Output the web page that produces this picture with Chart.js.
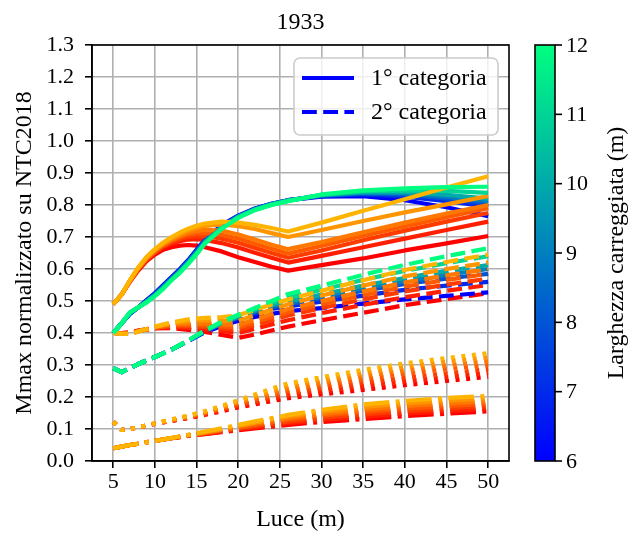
<!DOCTYPE html>
<html>
<head>
<meta charset="utf-8">
<script src="https://cdn.jsdelivr.net/npm/chart.js@4.4.1/dist/chart.umd.min.js"></script>
<style>
  html, body { margin: 0; padding: 0; background: #fff; }
  canvas { display: block; }
</style>
</head>
<body>
<canvas id="chart" width="630" height="535"></canvas>
<script>
// ---- text ----
const TITLE = '1933';
const X_LABEL = 'Luce (m)';
const Y_LABEL = 'Mmax normalizzato su NTC2018';
const CB_LABEL = 'Larghezza carreggiata (m)';
const LEGEND_LABELS = ['1° categoria', '2° categoria'];

// ---- ticks ----
const X_TICKS = [5, 10, 15, 20, 25, 30, 35, 40, 45, 50];
const Y_TICKS = [0.0, 0.1, 0.2, 0.3, 0.4, 0.5, 0.6, 0.7, 0.8, 0.9, 1.0, 1.1, 1.2, 1.3];
const CB_TICKS = [6, 7, 8, 9, 10, 11, 12];

// ---- carriageway widths (m), one curve per width in every family ----
const WIDTHS = [6, 7, 8, 9, 10, 11, 12];

// spans (m)
const LUCE_FINE = [5, 6, 7, 8, 9, 10, 11, 12, 13, 14, 15, 16, 18, 20, 22, 24, 26, 30, 35, 40, 45, 50];
const LUCE = [5, 6, 7, 8, 10, 12, 14, 16, 18, 20, 22, 24, 26, 30, 35, 40, 45, 50];

// 1st category, solid (on LUCE_FINE)
const cat1 = [
  [.40, .43, .46, .48, .503, .525, .55, .575, .60, .628, .66, .692, .737, .767, .789, .804, .815, .826, .828, .815, .793, .765],
  [.40, .43, .46, .48, .501, .523, .548, .573, .598, .626, .658, .69, .735, .766, .788, .804, .815, .828, .833, .826, .812, .795],
  [.40, .43, .461, .48, .50, .521, .546, .571, .596, .624, .655, .688, .733, .765, .787, .803, .815, .829, .836, .832, .82, .805],
  [.40, .43, .462, .48, .499, .519, .544, .569, .594, .622, .652, .685, .731, .764, .787, .803, .814, .83, .838, .836, .826, .812],
  [.40, .43, .463, .48, .498, .518, .542, .567, .592, .62, .65, .683, .729, .763, .786, .802, .814, .831, .84, .84, .832, .82],
  [.40, .43, .464, .48, .497, .517, .54, .566, .59, .618, .648, .681, .727, .762, .785, .801, .813, .832, .843, .846, .844, .838],
  [.40, .43, .465, .48, .495, .515, .538, .565, .588, .616, .646, .679, .725, .76, .784, .80, .812, .833, .846, .852, .856, .857]
];

// 2nd category, dashed (on LUCE)
const cat2 = [
  [.29, .278, .29, .303, .325, .348, .375, .402, .422, .438, .45, .46, .468, .478, .492, .505, .516, .527],
  [.29, .278, .29, .303, .325, .348, .376, .404, .427, .445, .461, .475, .483, .498, .517, .535, .548, .56],
  [.29, .278, .29, .303, .325, .348, .376, .405, .429, .448, .465, .48, .489, .508, .532, .553, .57, .585],
  [.29, .278, .29, .303, .325, .348, .376, .406, .43, .45, .468, .484, .494, .514, .54, .562, .582, .60],
  [.29, .278, .29, .303, .325, .348, .377, .406, .432, .452, .471, .488, .50, .52, .548, .572, .594, .612],
  [.29, .278, .29, .303, .325, .348, .377, .407, .433, .455, .475, .494, .51, .535, .566, .594, .618, .64],
  [.29, .278, .29, .303, .325, .348, .377, .408, .435, .457, .478, .50, .522, .548, .582, .613, .64, .665]
];

// warm families: solid (on LUCE_FINE), dashed / dotted / dash-dot (on LUCE)
const warmSolid = [
  [.49, .52, .56, .595, .625, .645, .66, .668, .673, .675, .673, .668, .655, .637, .622, .607, .595, .612, .633, .658, .68, .703],
  [.49, .52, .561, .598, .628, .649, .667, .679, .687, .692, .693, .691, .681, .667, .651, .635, .62, .641, .668, .695, .722, .748],
  [.49, .52, .562, .60, .63, .652, .671, .684, .694, .70, .703, .703, .695, .682, .666, .65, .635, .658, .69, .72, .748, .775],
  [.49, .52, .563, .601, .632, .655, .674, .688, .699, .707, .711, .712, .707, .695, .679, .663, .648, .672, .703, .733, .762, .79],
  [.49, .52, .563, .602, .634, .657, .677, .692, .704, .713, .719, .722, .72, .708, .692, .676, .662, .684, .715, .745, .773, .80],
  [.49, .52, .564, .604, .636, .66, .68, .696, .709, .72, .729, .735, .739, .734, .725, .712, .70, .722, .75, .777, .802, .828],
  [.49, .52, .565, .605, .638, .662, .683, .70, .714, .726, .735, .742, .748, .745, .738, .728, .717, .745, .782, .818, .855, .89]
];
const warmDashed = [
  [.40, .40, .403, .408, .414, .415, .41, .403, .394, .385, .395, .408, .42, .44, .463, .487, .506, .524],
  [.40, .399, .401, .407, .415, .418, .416, .412, .406, .40, .413, .427, .44, .462, .488, .512, .532, .55],
  [.40, .398, .40, .406, .416, .421, .421, .418, .414, .41, .424, .44, .455, .478, .505, .53, .551, .57],
  [.40, .398, .399, .406, .417, .424, .425, .424, .421, .418, .433, .45, .465, .49, .518, .545, .566, .585],
  [.40, .397, .398, .405, .418, .428, .429, .43, .428, .425, .442, .459, .475, .50, .53, .558, .58, .60],
  [.40, .397, .397, .405, .419, .431, .436, .44, .439, .438, .456, .473, .49, .517, .548, .577, .60, .62],
  [.40, .397, .397, .405, .42, .433, .443, .447, .45, .455, .472, .489, .505, .532, .565, .597, .622, .645]
];
const warmDotted = [
  [.123, .097, .10, .105, .116, .125, .134, .144, .155, .167, .177, .187, .196, .208, .222, .237, .25, .263],
  [.123, .097, .10, .105, .116, .126, .135, .146, .158, .171, .181, .193, .204, .217, .233, .249, .262, .275],
  [.123, .097, .10, .105, .117, .127, .137, .148, .161, .175, .186, .199, .212, .226, .243, .26, .274, .287],
  [.123, .097, .10, .105, .117, .128, .138, .15, .164, .179, .192, .206, .22, .236, .254, .272, .287, .30],
  [.123, .097, .10, .105, .117, .128, .139, .152, .167, .183, .197, .212, .228, .245, .265, .283, .299, .312],
  [.123, .097, .10, .105, .118, .129, .141, .154, .17, .187, .202, .218, .236, .254, .275, .294, .311, .324],
  [.123, .097, .10, .105, .118, .13, .142, .156, .172, .19, .208, .226, .243, .262, .285, .305, .322, .337]
];
const warmDashDot = [
  [.04, .045, .05, .054, .063, .071, .078, .084, .09, .096, .102, .107, .113, .122, .131, .14, .148, .155],
  [.04, .045, .05, .054, .063, .071, .079, .085, .092, .099, .105, .111, .118, .128, .138, .148, .156, .163],
  [.04, .045, .05, .054, .063, .071, .079, .086, .094, .102, .109, .116, .123, .134, .146, .156, .164, .171],
  [.04, .045, .05, .054, .063, .072, .08, .088, .096, .104, .113, .121, .129, .141, .154, .164, .172, .179],
  [.04, .045, .05, .054, .063, .072, .081, .089, .098, .107, .117, .126, .134, .147, .161, .172, .18, .187],
  [.04, .045, .05, .054, .063, .072, .081, .09, .10, .11, .12, .13, .139, .154, .169, .18, .189, .195],
  [.04, .045, .05, .054, .063, .072, .082, .092, .102, .113, .124, .134, .144, .16, .177, .188, .197, .203]
];

// ---- styling ----
const FONT = '"Liberation Serif", "Times New Roman", serif';
const LW = 4.2;
const DASHED = [14.8, 6.4];
const DOTTED = [4, 6.6];
const DASHDOT = [25.6, 6.4, 4, 6.4];
const GRID = '#b0b0b0';
const TICK_SIZE = 22;
const LABEL_SIZE = 24;

const wMin = WIDTHS[0], wMax = WIDTHS[WIDTHS.length - 1];
// "winter" style ramp: blue -> spring green
const coolColor = t => `rgb(0,${Math.round(255 * t)},${Math.round(255 * (1 - 0.5 * t))})`;
// "autumn" style ramp: red -> orange
const warmColor = t => `rgb(255,${Math.round(180 * t)},0)`;

const datasets = [];
function addLine(xs, ys, color, dash) {
  datasets.push({
    data: xs.map((x, j) => ({ x: x, y: ys[j] })),
    borderColor: color,
    borderWidth: LW,
    borderDash: dash,
    borderCapStyle: 'butt',
    borderJoinStyle: 'round',
    pointRadius: 0,
    pointHoverRadius: 0,
    fill: false,
    tension: 0
  });
}
WIDTHS.forEach((w, i) => {
  const t = (w - wMin) / (wMax - wMin);
  addLine(LUCE, warmDashDot[i], warmColor(t), DASHDOT);
  addLine(LUCE, warmDotted[i], warmColor(t), DOTTED);
  addLine(LUCE, warmDashed[i], warmColor(t), DASHED);
  addLine(LUCE_FINE, warmSolid[i], warmColor(t), []);
  addLine(LUCE, cat2[i], coolColor(t), DASHED);
  addLine(LUCE_FINE, cat1[i], coolColor(t), []);
});
// later entries are painted on top
datasets.forEach((d, k) => { d.order = -k; });

// frame, title, legend and colour bar
const decorations = {
  id: 'decorations',
  afterDraw(chart) {
    const { ctx, chartArea: a } = chart;
    ctx.save();
    // frame
    ctx.strokeStyle = '#000';
    ctx.lineWidth = 1.6;
    ctx.strokeRect(a.left, a.top, a.right - a.left, a.bottom - a.top);

    // title
    ctx.fillStyle = '#000';
    ctx.font = `${LABEL_SIZE}px ${FONT}`;
    ctx.textAlign = 'center';
    ctx.textBaseline = 'middle';
    ctx.fillText(TITLE, (a.left + a.right) / 2, 23);

    // legend
    const lx = 294, ly = 58, lw = 204, lh = 77;
    ctx.beginPath();
    ctx.roundRect(lx, ly, lw, lh, 6);
    ctx.fillStyle = 'rgba(255,255,255,0.8)';
    ctx.fill();
    ctx.strokeStyle = '#cccccc';
    ctx.lineWidth = 1.6;
    ctx.stroke();
    const rows = [{ y: 78, dash: [] }, { y: 112, dash: DASHED }];
    rows.forEach((r, k) => {
      ctx.beginPath();
      ctx.setLineDash(r.dash);
      ctx.strokeStyle = coolColor(0);
      ctx.lineWidth = LW;
      ctx.moveTo(302, r.y);
      ctx.lineTo(354, r.y);
      ctx.stroke();
      ctx.setLineDash([]);
      ctx.fillStyle = '#000';
      ctx.font = `${LABEL_SIZE}px ${FONT}`;
      ctx.textAlign = 'left';
      ctx.textBaseline = 'middle';
      ctx.fillText(LEGEND_LABELS[k], 371, r.y + 1);
    });

    // colour bar
    const cx0 = 535, cx1 = 555, top = a.top, bot = a.bottom;
    const g = ctx.createLinearGradient(0, bot, 0, top);
    g.addColorStop(0, coolColor(0));
    g.addColorStop(1, coolColor(1));
    ctx.fillStyle = g;
    ctx.fillRect(cx0, top, cx1 - cx0, bot - top);
    ctx.strokeStyle = '#000';
    ctx.lineWidth = 1.6;
    ctx.strokeRect(cx0, top, cx1 - cx0, bot - top);
    ctx.font = `${TICK_SIZE}px ${FONT}`;
    ctx.textAlign = 'left';
    ctx.textBaseline = 'middle';
    ctx.fillStyle = '#000';
    CB_TICKS.forEach(v => {
      const y = bot - (v - wMin) / (wMax - wMin) * (bot - top);
      ctx.beginPath();
      ctx.moveTo(cx1, y);
      ctx.lineTo(cx1 + 7, y);
      ctx.stroke();
      ctx.fillText(String(v), cx1 + 11, y + 1);
    });
    ctx.translate(617, (top + bot) / 2);
    ctx.rotate(-Math.PI / 2);
    ctx.font = `${LABEL_SIZE}px ${FONT}`;
    ctx.textAlign = 'center';
    ctx.textBaseline = 'middle';
    ctx.fillText(CB_LABEL, 0, 0);
    ctx.restore();
  }
};

new Chart(document.getElementById('chart'), {
  type: 'line',
  data: { datasets: datasets },
  plugins: [decorations],
  options: {
    responsive: false,
    animation: false,
    devicePixelRatio: 1,
    events: [],
    layout: { padding: { top: 45, right: 121, bottom: 0, left: 0 } },
    plugins: { legend: { display: false }, tooltip: { enabled: false }, title: { display: false } },
    scales: {
      x: {
        type: 'linear',
        min: 2.45,
        max: 52.5,
        afterBuildTicks: s => { s.ticks = X_TICKS.map(v => ({ value: v })); },
        afterFit: s => { s.height = 74; },
        grid: { color: GRID, lineWidth: 1.6, tickColor: '#000', tickLength: 7, tickWidth: 1.6 },
        border: { color: '#000', width: 1.6 },
        ticks: { font: { family: FONT, size: TICK_SIZE }, color: '#000', padding: 1, autoSkip: false, maxRotation: 0 },
        title: { display: true, text: X_LABEL, font: { family: FONT, size: LABEL_SIZE }, color: '#000', padding: { top: 0, bottom: 1 } }
      },
      y: {
        type: 'linear',
        min: 0,
        max: 1.3,
        afterBuildTicks: s => { s.ticks = Y_TICKS.map(v => ({ value: v })); },
        afterFit: s => { s.width = 92; },
        grid: { color: GRID, lineWidth: 1.6, tickColor: '#000', tickLength: 7, tickWidth: 1.6 },
        border: { color: '#000', width: 1.6 },
        ticks: { font: { family: FONT, size: TICK_SIZE }, color: '#000', padding: 11, autoSkip: false, callback: v => v.toFixed(1) },
        title: { display: true, text: Y_LABEL, font: { family: FONT, size: LABEL_SIZE }, color: '#000', padding: { top: 10, bottom: 0 } }
      }
    }
  }
});
</script>
</body>
</html>
